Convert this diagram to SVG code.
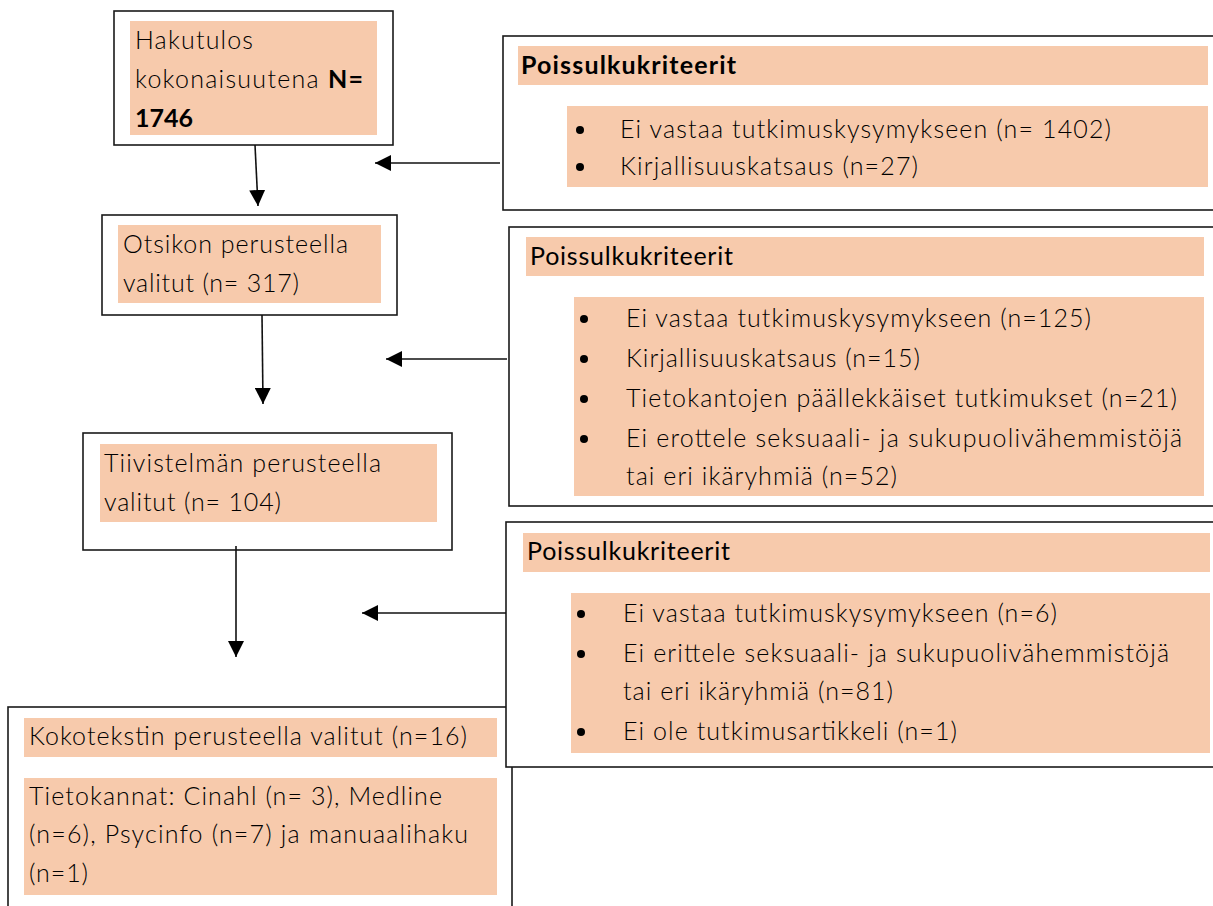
<svg xmlns="http://www.w3.org/2000/svg" width="1213" height="906" viewBox="0 0 1213 906">
<defs>
<style>
.box{fill:#fff;stroke:#1a1a1a;stroke-width:1.6}
.hl{fill:#F7CAAC}
.t{font-family:Lato,"Open Sans","Liberation Sans",sans-serif;font-weight:300;font-size:25px;fill:#000}
.h{font-family:Lato,"Open Sans","Liberation Sans",sans-serif;font-weight:400;font-size:25px;fill:#000}
.b{font-weight:700}
.conn{stroke:#111;stroke-width:1.6;fill:none}
.dot{fill:#000}
</style>
<marker id="ah" markerUnits="userSpaceOnUse" markerWidth="16" markerHeight="16" refX="16" refY="8" orient="auto">
<path d="M0,0 L16,8 L0,16 z" fill="#000"/>
</marker>
</defs>
<rect width="1213" height="906" fill="#fff"/>

<g id="n1">
<rect class="box" x="114" y="11" width="279" height="134"/>
<rect class="hl" x="130" y="21" width="247" height="114"/>
<text class="t" x="135" y="49" textLength="118">Hakutulos</text>
<text class="t" x="135" y="88" textLength="228">kokonaisuutena <tspan class="b">N=</tspan></text>
<text class="t b" x="135" y="127" textLength="58">1746</text>
</g>

<g id="n2">
<rect class="box" x="102" y="215" width="295" height="100"/>
<rect class="hl" x="118" y="225" width="263" height="78"/>
<text class="t" x="123" y="253" textLength="225">Otsikon perusteella</text>
<text class="t" x="123" y="292" textLength="176">valitut (n= 317)</text>
</g>

<g id="n3">
<rect class="box" x="83" y="433" width="369" height="117"/>
<rect class="hl" x="100" y="444" width="337" height="78"/>
<text class="t" x="104" y="472" textLength="277">Tiivistelmän perusteella</text>
<text class="t" x="104" y="511" textLength="177">valitut (n= 104)</text>
</g>

<g id="n4">
<rect class="box" x="8" y="707" width="504" height="220"/>
<rect class="hl" x="24" y="718" width="473" height="39"/>
<text class="t" x="29" y="745" textLength="438">Kokotekstin perusteella valitut (n=16)</text>
<rect class="hl" x="24" y="778" width="473" height="117"/>
<text class="t" x="29" y="805" textLength="413">Tietokannat: Cinahl (n= 3), Medline</text>
<text class="t" x="29" y="843" textLength="439">(n=6), Psycinfo (n=7) ja manuaalihaku</text>
<text class="t" x="29" y="882" textLength="59">(n=1)</text>
</g>

<g id="e1">
<rect class="box" x="503" y="36" width="730" height="174"/>
<rect class="hl" x="518" y="46" width="690" height="39"/>
<text class="h b" x="521" y="74" textLength="215">Poissulkukriteerit</text>
<rect class="hl" x="567" y="106" width="641" height="81"/>
<circle class="dot" cx="580" cy="130" r="4"/>
<text class="t" x="620" y="138" textLength="491">Ei vastaa tutkimuskysymykseen (n= 1402)</text>
<circle class="dot" cx="580" cy="167" r="4"/>
<text class="t" x="620" y="175" textLength="298">Kirjallisuuskatsaus (n=27)</text>
</g>

<g id="e2">
<rect class="box" x="509" y="227" width="724" height="279"/>
<rect class="hl" x="526" y="237" width="678" height="39"/>
<text class="h" x="530" y="265" textLength="203">Poissulkukriteerit</text>
<rect class="hl" x="574" y="297" width="630" height="199"/>
<circle class="dot" cx="584" cy="319" r="4"/>
<text class="t" x="626" y="327" textLength="465">Ei vastaa tutkimuskysymykseen (n=125)</text>
<circle class="dot" cx="584" cy="359" r="4"/>
<text class="t" x="626" y="367" textLength="294">Kirjallisuuskatsaus (n=15)</text>
<circle class="dot" cx="584" cy="399" r="4"/>
<text class="t" x="626" y="407" textLength="551">Tietokantojen päällekkäiset tutkimukset (n=21)</text>
<circle class="dot" cx="584" cy="439" r="4"/>
<text class="t" x="626" y="447" textLength="556">Ei erottele seksuaali- ja sukupuolivähemmistöjä</text>
<text class="t" x="626" y="485" textLength="271">tai eri ikäryhmiä (n=52)</text>
</g>

<g id="e3">
<rect class="box" x="506" y="522" width="727" height="245"/>
<rect class="hl" x="523" y="533" width="687" height="39"/>
<text class="h" x="527" y="560" textLength="203">Poissulkukriteerit</text>
<rect class="hl" x="571" y="593" width="639" height="160"/>
<circle class="dot" cx="581" cy="614" r="4"/>
<text class="t" x="623" y="622" textLength="434">Ei vastaa tutkimuskysymykseen (n=6)</text>
<circle class="dot" cx="581" cy="654" r="4"/>
<text class="t" x="623" y="662" textLength="546">Ei erittele seksuaali- ja sukupuolivähemmistöjä</text>
<text class="t" x="623" y="700" textLength="270">tai eri ikäryhmiä (n=81)</text>
<circle class="dot" cx="581" cy="732" r="4"/>
<text class="t" x="623" y="740" textLength="334">Ei ole tutkimusartikkeli (n=1)</text>
</g>

<g id="connectors">
<line class="conn" x1="255" y1="145" x2="258" y2="206" marker-end="url(#ah)"/>
<line class="conn" x1="262" y1="315" x2="263" y2="404" marker-end="url(#ah)"/>
<line class="conn" x1="236" y1="546" x2="236" y2="657" marker-end="url(#ah)"/>
<line class="conn" x1="500" y1="163" x2="375" y2="163" marker-end="url(#ah)"/>
<line class="conn" x1="507" y1="359" x2="386" y2="359" marker-end="url(#ah)"/>
<line class="conn" x1="506" y1="613" x2="362" y2="613" marker-end="url(#ah)"/>
</g>
</svg>
